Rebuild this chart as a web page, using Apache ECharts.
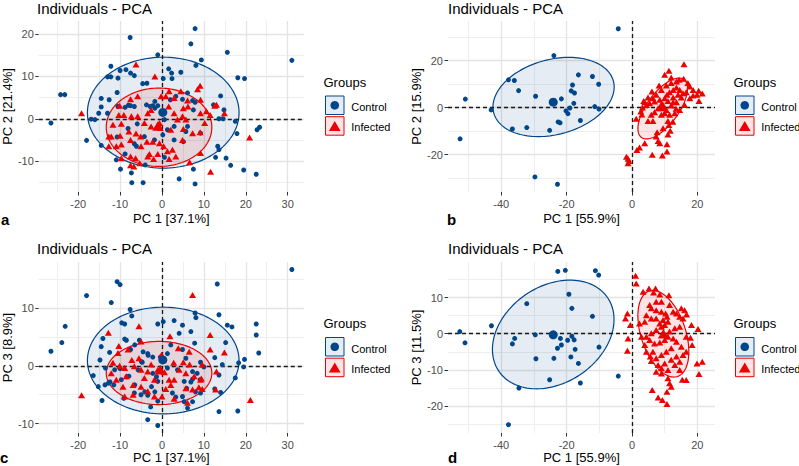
<!DOCTYPE html>
<html>
<head>
<meta charset="utf-8">
<script src="https://cdn.jsdelivr.net/npm/echarts@6/dist/echarts.min.js"></script>
<style>
html,body{margin:0;padding:0;background:#fff;}
#chart{width:799px;height:466px;}
</style>
</head>
<body>
<div id="chart"></div>
<script>
// ---------------- DATA ----------------
const plotTitle = 'Individuals - PCA';
const legendTitle = 'Groups';
const groupNames = ['Control', 'Infected'];
const panelLetters = ['a', 'b', 'c', 'd'];
const xAxisTitles = ['PC 1 [37.1%]', 'PC 1 [55.9%]', 'PC 1 [37.1%]', 'PC 1 [55.9%]'];
const yAxisTitles = ['PC 2 [21.4%]', 'PC 2 [15.9%]', 'PC 3 [8.9%]', 'PC 3 [11.5%]'];

const xTicksA = [-20, -10, 0, 10, 20, 30];
const yTicksA = [-10, 0, 10, 20];
const xTicksB = [-40, -20, 0, 20];
const yTicksB = [-20, 0, 20];
const xTicksC = [-20, -10, 0, 10, 20, 30];
const yTicksC = [-10, 0, 10];
const xTicksD = [-40, -20, 0, 20];
const yTicksD = [-20, -10, 0, 10];

// Panel a: PC1 vs PC2 (37.1% / 21.4%)
const aControl = [[7.9,21.3],[-7.6,19.2],[6.9,17.7],[15.6,15.7],[-1.0,15.1],[31.0,13.8],[9.4,13.9],[8.1,12.6],[-12.2,12.4],[-10.0,11.4],[-8.6,11.6],[-13.0,9.9],[-12.2,9.9],[-10.5,9.6],[-7.5,10.8],[-6.6,10.2],[-4.6,8.3],[-3.6,8.4],[2.3,10.8],[1.6,11.8],[0.3,9.5],[2.4,9.5],[4.5,11.0],[18.1,9.7],[19.7,9.5],[-24.2,5.7],[-23.2,5.7],[-10.7,6.2],[-14.5,4.8],[-12.6,4.5],[-14.5,2.8],[-15.1,1.3],[-16.9,-0.1],[-16.0,-0.2],[-13.0,1.3],[-10.5,2.9],[-8.0,3.2],[-8.8,2.7],[-7.5,3.1],[-6.6,2.9],[-3.7,3.3],[-2.8,2.9],[-2.2,3.1],[-1.7,2.5],[-1.0,3.1],[-1.7,4.1],[2.0,4.5],[3.3,5.3],[4.9,4.6],[6.1,6.1],[7.3,4.3],[7.9,3.9],[7.5,2.1],[14.0,5.4],[12.3,3.3],[14.8,2.1],[13.6,0.0],[14.6,0.0],[17.5,-0.6],[17.9,-3.5],[22.7,-2.6],[23.3,-2.0],[-26.5,-1.0],[-18.0,-5.1],[-14.5,-6.3],[-10.7,-4.3],[-8.1,-2.3],[-5.9,-1.2],[-6.6,-5.9],[-4.2,-4.2],[-1.8,-5.0],[0.2,-3.8],[1.3,-2.6],[2.9,-5.0],[5.1,-5.4],[5.7,-3.0],[6.1,-1.8],[9.2,-3.4],[13.3,-6.5],[13.6,-7.3],[12.8,-9.1],[15.3,-9.3],[16.4,-11.0],[19.5,-12.1],[22.5,-13.1],[7.5,-11.9],[4.1,-14.2],[7.9,-15.4],[-10.9,-9.7],[-9.9,-11.9],[-7.3,-12.8],[-7.2,-15.1],[-4.5,-15.1],[0.6,-9.1],[-4.0,-10.9],[-8.8,-8.3],[-6.1,-6.5],[2.9,-1.8],[0.6,-0.2]];
const aInfected = [[-6.2,12.8],[-1.7,10.0],[-19.2,1.3],[9.1,7.8],[8.5,7.0],[1.7,6.5],[0.9,5.3],[2.9,4.9],[6.1,4.3],[1.6,2.9],[-5.8,5.3],[-7.5,4.6],[-10.1,3.1],[-10.3,0.9],[-9.1,0.9],[-7.3,0.6],[-5.8,0.6],[-3.4,1.3],[-2.6,2.1],[-0.4,-2.2],[-0.6,-1.0],[2.9,1.3],[4.9,0.6],[3.7,-0.2],[5.7,-0.2],[9.2,1.3],[11.5,0.9],[13.0,3.3],[12.6,3.1],[14.9,1.3],[10.2,-1.0],[9.1,-3.2],[7.3,-3.4],[5.1,-2.4],[2.1,-2.6],[-0.6,-5.8],[-2.2,-5.4],[-3.6,-5.4],[-5.1,-4.2],[-6.2,-3.5],[-7.9,-3.0],[-10.0,-4.0],[-12.1,-4.2],[-10.9,-6.5],[-9.7,-6.1],[-7.5,-5.0],[-5.0,-6.5],[-3.0,-8.3],[-1.0,-8.3],[1.3,-7.7],[2.5,-7.3],[3.3,-8.9],[1.7,-9.5],[-2.0,-9.5],[-3.4,-8.9],[-5.3,-10.5],[-7.5,-8.9],[-7.5,-11.0],[-9.7,-9.3],[-12.7,-6.5],[-12.7,-4.2],[9.2,-8.1],[6.6,-10.3],[11.6,-12.5],[20.9,-4.4],[6.2,2.9],[10.6,1.8],[5.1,2.5],[-6.7,-11.3],[-6.3,-9.3],[0.4,-6.5],[-0.2,5.3],[4.5,6.5],[-4.2,-1.0],[-9.7,-1.2],[-11.7,-1.4],[9.2,4.5],[-2.6,-1.8],[4.9,-5.0]];
const aControlMean = [0.2, 1.5];
const aInfectedMean = [-1.0, -1.7];
// ellipse: [centerX, centerY, axis1X, axis1Y, axis2X, axis2Y]
const aControlEllipse = [0.3, 1.45, 18.1, 0, 0, 13.1];
const aInfectedEllipse = [-0.7, -2.0, 12.6, 0, 0, 9.25];

// Panel b: PC1 vs PC2 (55.9% / 15.9%)
const bControl = [[-4.2,33.5],[-23.9,22.1],[-37.8,11.8],[-36.0,11.5],[-34.7,7.2],[-51.0,3.6],[-29.5,4.8],[-21.6,3.7],[-43.1,-1.0],[-52.6,-13.3],[-36.6,-9.1],[-32.2,-8.5],[-25.2,-9.7],[-22.6,-6.1],[-22.0,-6.5],[-20.2,-1.4],[-19.6,-2.6],[-19.0,-0.2],[-17.8,1.8],[-18.2,9.6],[-18.6,7.1],[-17.6,6.2],[-16.4,13.9],[-15.8,-5.5],[-12.1,13.2],[-10.2,9.9],[-11.4,0.4],[-10.1,-0.6],[-29.7,-29.5],[-22.8,-32.6]];
const bInfected = [[15.9,18.4],[11.3,15.6],[10.0,13.9],[15.8,12.2],[6.1,6.8],[17.7,8.9],[20.4,7.1],[21.5,6.0],[19.9,5.4],[18.7,5.1],[20.5,2.8],[3.9,2.3],[3.2,0.0],[2.7,-1.7],[1.3,-4.8],[4.9,-5.7],[6.4,-5.7],[9.0,-3.1],[11.0,-5.7],[11.3,-7.4],[11.7,-9.9],[7.7,-10.5],[7.4,-12.3],[8.0,-14.2],[8.5,-15.2],[10.7,-15.6],[3.9,-15.2],[2.3,-17.0],[1.5,-18.0],[6.2,-20.1],[9.3,-20.4],[10.7,-18.7],[-1.7,-20.9],[-1.2,-21.8],[-0.9,-22.7],[-1.2,-23.7],[4.4,1.1],[5.4,1.8],[6.9,2.6],[8.5,3.3],[10.0,4.0],[10.7,5.4],[11.5,6.5],[12.6,7.5],[13.6,8.5],[14.6,7.5],[15.6,6.1],[15.1,4.3],[13.6,2.3],[12.0,0.9],[10.5,-1.0],[9.0,1.4],[8.0,-0.3],[6.9,-2.0],[5.9,-3.1],[7.4,5.4],[9.0,7.5],[10.5,9.4],[12.0,10.4],[13.6,11.1],[16.6,6.5],[17.7,4.0],[16.1,1.1],[14.6,-1.0],[13.1,-2.4],[11.5,-3.1],[10.0,-2.4],[9.5,0.4],[11.0,2.8],[12.6,4.3],[14.1,5.4],[8.3,9.4],[6.4,4.0],[4.9,4.3],[3.6,2.8],[12.6,2.3],[18.7,7.5],[17.1,10.4],[14.4,11.8],[12.0,12.8],[9.5,-8.8],[12.5,-6.0],[3.0,-3.0],[13.5,-0.5],[11.0,-11.5]];
const bControlMean = [-24.1, 2.3];
const bInfectedMean = [9.5, 0.5];
const bControlEllipse = [-24.0, 4.5, 18.3, 6.8, 3.0, -15.4];
const bInfectedEllipse = [9.4, -0.4, 6.5, 12.3, 3.9, -4.0];

// Panel c: PC1 vs PC3 (37.1% / 8.9%)
const cControl = [[31.0,16.6],[-10.7,14.5],[-10.0,14.0],[13.2,14.1],[-18.0,12.1],[-12.1,10.9],[-7.6,9.7],[-7.2,8.6],[-9.6,7.4],[-8.9,7.2],[-23.1,6.8],[-1.0,7.2],[0.3,7.6],[2.9,7.8],[4.9,7.0],[8.1,8.3],[7.9,9.1],[13.6,8.8],[15.6,7.0],[16.7,6.7],[22.5,7.2],[22.5,5.3],[23.1,2.2],[-23.9,4.0],[-26.5,2.5],[-14.1,4.7],[-14.5,3.3],[-12.5,2.3],[-8.5,4.4],[-8.9,4.6],[-5.4,4.4],[-3.4,2.1],[-2.2,1.5],[-0.4,1.5],[0.6,0.9],[1.3,2.1],[4.1,5.6],[6.9,5.9],[2.1,3.6],[4.9,2.8],[9.2,0.6],[15.2,4.0],[14.4,0.2],[18.3,0.5],[19.7,1.1],[19.5,-0.2],[17.5,-2.1],[13.6,-1.6],[12.6,-4.0],[14.0,-4.6],[18.1,-7.8],[13.6,-7.9],[-13.5,-0.4],[-15.2,-3.6],[-13.6,-3.3],[-14.3,-6.0],[-16.4,-1.7],[-11.5,-3.3],[-9.1,-5.6],[-7.9,-1.8],[-5.0,-5.0],[-3.4,-5.1],[-2.2,-1.3],[-1.0,-2.7],[-1.0,-6.1],[-3.4,-9.3],[-1.0,-10.3],[2.5,-4.7],[3.3,-5.4],[4.9,-5.3],[5.3,-2.7],[7.3,-2.3],[9.2,-4.7],[6.1,-7.3],[9.1,-2.4],[-6.6,-4.7],[-9.7,-2.4],[-11.3,-0.7],[-4.7,0.6],[1.3,-0.4],[3.7,-0.7],[5.7,1.3],[7.3,-1.0],[-7.5,2.8],[-14.8,1.0],[-6.5,3.6],[-4.5,2.4],[-3.3,1.8],[-4.9,0.7],[-5.7,-0.7],[-8.4,-1.9],[-6.5,-3.3],[-4.1,-4.5],[-2.5,-3.6],[-1.7,-4.5],[-1.3,-1.9],[-2.7,-7.1],[-12.8,-3.0],[-12.4,-2.8],[-10.0,-0.5],[10.0,-0.2],[8.4,-1.3],[6.9,-2.8],[5.9,-3.9],[8.0,-4.5],[7.3,-6.2],[5.3,-6.2],[7.8,3.9],[12.6,1.4]];
const cInfected = [[7.3,12.2],[-12.8,5.7],[-5.5,6.8],[11.5,5.3],[11.5,2.8],[14.9,2.3],[1.9,5.1],[-0.1,1.9],[-5.0,4.2],[-10.3,3.4],[-10.5,2.2],[-8.1,2.8],[-7.2,1.0],[-10.1,0.0],[-8.9,-0.4],[-6.6,-0.1],[-5.0,-0.7],[-3.4,-1.0],[-1.0,-0.7],[0.6,-1.1],[2.8,0.5],[5.1,0.6],[6.6,0.2],[9.6,0.2],[7.7,-1.8],[9.2,-2.4],[5.7,-1.3],[2.9,-2.4],[2.1,-3.3],[0.9,-4.0],[0.0,-5.3],[-1.8,-5.3],[-3.4,-4.4],[-5.0,-3.6],[-6.9,-3.3],[-9.3,-3.6],[-10.9,-2.4],[-12.1,-1.3],[-19.2,-5.1],[-8.9,-5.3],[-6.9,-5.0],[5.7,-3.9],[7.3,-4.1],[13.0,-1.0],[12.8,-4.1],[21.1,-5.9],[6.1,-6.4],[2.9,-5.7],[-4.2,-2.1],[-2.6,0.2],[-5.5,1.3],[-11.7,0.5],[8.8,-3.7],[3.9,3.0],[-1.8,-2.4],[1.7,-2.4],[-8.5,-1.8],[6.5,2.4],[9.4,-2.2],[9.6,-4.0],[4.1,-0.7]];
const cControlMean = [0.2, 1.0];
const cInfectedMean = [-0.4, -0.7];
const cControlEllipse = [0.3, 0.9, 18.1, 0, 0, 9.2];
const cInfectedEllipse = [-0.7, -1.25, 12.6, 0, 0, 5.45];

// Panel d: PC1 vs PC3 (55.9% / 11.5%)
const dControl = [[-22.7,17.2],[-20.4,17.5],[-11.2,17.4],[-10.2,16.2],[-19.3,10.9],[-32.2,8.3],[-18.4,7.0],[-12.1,4.8],[-43.0,2.2],[-52.7,0.6],[-51.1,-2.5],[-29.6,-0.3],[-35.9,-1.3],[-36.6,-2.8],[-21.9,-1.3],[-21.6,-3.1],[-22.8,-4.0],[-19.7,-1.8],[-18.4,-0.7],[-17.7,-1.7],[-17.4,-4.3],[-18.7,-6.4],[-16.4,-8.2],[-10.1,-3.7],[-29.4,-6.9],[-23.9,-6.8],[-25.2,-12.7],[-34.6,-15.0],[-15.8,-13.6],[-4.2,-11.7],[-37.8,-25.1]];
const dInfected = [[1.1,16.0],[1.3,13.9],[3.4,11.6],[5.2,12.5],[7.2,12.5],[6.6,11.4],[8.5,10.8],[11.3,10.6],[-1.4,5.6],[-2.0,4.2],[-0.5,2.4],[-1.2,-1.3],[-1.4,-4.7],[2.3,2.8],[2.9,-0.8],[3.9,-3.1],[4.4,-5.0],[5.6,-6.3],[7.4,-10.5],[9.0,-11.0],[11.0,-12.3],[11.5,-13.7],[12.0,-14.6],[10.7,-16.0],[6.2,-15.5],[8.0,-17.6],[9.3,-18.3],[10.7,-19.4],[15.4,-12.7],[16.6,-12.8],[19.9,-8.2],[21.5,-7.7],[20.5,-11.1],[18.4,-3.1],[17.9,-1.1],[18.2,2.4],[20.2,1.3],[16.1,6.5],[15.1,7.0],[16.7,5.3],[14.6,4.7],[15.6,4.2],[13.6,5.6],[5.4,7.9],[5.9,7.0],[7.4,6.5],[9.0,6.1],[10.3,5.6],[10.7,4.7],[9.5,3.8],[8.5,2.8],[10.0,2.4],[11.0,3.3],[9.0,1.9],[7.4,1.0],[5.9,0.1],[4.4,-0.8],[5.4,-1.7],[6.9,-2.7],[8.5,-2.4],[10.0,-1.7],[11.0,-0.8],[12.6,-1.3],[13.6,-2.2],[12.0,-4.0],[10.5,-5.0],[9.0,-5.9],[7.4,-6.8],[5.9,-7.5],[8.0,-8.6],[10.0,-8.2],[12.0,-7.2],[13.6,-6.3],[14.6,-7.7],[15.6,-5.9],[13.1,-8.6],[11.0,-10.0],[14.6,-10.0],[9.0,-9.5],[6.4,-5.0],[4.4,5.1],[3.9,3.3],[5.9,4.2],[7.4,4.2],[11.5,7.9],[12.6,6.1],[14.6,1.9],[13.1,1.5],[11.5,0.6],[7.4,8.8],[9.0,8.8],[16.6,-0.8],[15.1,-3.6],[16.6,-5.0]];
const dControlMean = [-24.1, -0.3];
const dInfectedMean = [9.6, 0.0];
const dControlEllipse = [-24.1, -0.2, 16.6, 10.2, 8.4, -11.0];
const dInfectedEllipse = [9.6, 0.0, 4.3, -11.8, -6.5, -1.9];

// ---------------- LAYOUT / STYLE ----------------
const FONT = '"Liberation Sans", Arial, Helvetica, sans-serif';
const COLORS = ['#00468B', '#ED0000'];
const FILLS = ['rgba(0,70,139,0.10)', 'rgba(237,0,0,0.10)'];

const panels = [
  {ctrl: aControl, inf: aInfected, ctrlMean: aControlMean, infMean: aInfectedMean, ctrlEll: aControlEllipse, infEll: aInfectedEllipse,
   xTicks: xTicksA, yTicks: yTicksA, xRange: [-29.4, 33.9], yRange: [-17.3, 23.1],
   grid: {left: 37, top: 21, width: 267, height: 171}, xNameGap: 20, titleY: 8, legX: 325, legY: 82.3, letterX: 1, letterY: 219.5},
  {ctrl: bControl, inf: bInfected, ctrlMean: bControlMean, infMean: bInfectedMean, ctrlEll: bControlEllipse, infEll: bInfectedEllipse,
   xTicks: xTicksB, yTicks: yTicksB, xRange: [-56.3, 25.4], yRange: [-35.9, 36.8],
   grid: {left: 448, top: 21, width: 267, height: 171}, xNameGap: 20, titleY: 8, legX: 735, legY: 82.3, letterX: 447, letterY: 219.5},
  {ctrl: cControl, inf: cInfected, ctrlMean: cControlMean, infMean: cInfectedMean, ctrlEll: cControlEllipse, infEll: cInfectedEllipse,
   xTicks: xTicksC, yTicks: yTicksC, xRange: [-29.4, 33.9], yRange: [-11.6, 17.9],
   grid: {left: 37, top: 262, width: 267, height: 171}, xNameGap: 18, titleY: 248.3, legX: 325, legY: 323.8, letterX: 0, letterY: 457.5},
  {ctrl: dControl, inf: dInfected, ctrlMean: dControlMean, infMean: dInfectedMean, ctrlEll: dControlEllipse, infEll: dInfectedEllipse,
   xTicks: xTicksD, yTicks: yTicksD, xRange: [-56.3, 25.4], yRange: [-27.4, 19.8],
   grid: {left: 448, top: 262, width: 267, height: 171}, xNameGap: 18, titleY: 248.3, legX: 735, legY: 323.8, letterX: 448, letterY: 457.5}
];

function gridValues(ticks, range) {
  const half = (ticks[1] - ticks[0]) / 2;
  const major = [], minor = [];
  for (let k = Math.ceil(range[0] / half); k * half <= range[1]; k++) {
    if (k % 2 === 0) major.push(k * half); else minor.push(k * half);
  }
  return {major, minor};
}

function ellipseRenderer(color, fill) {
  return function (params, api) {
    const cx = api.value(0), cy = api.value(1);
    const ux = api.value(2), uy = api.value(3), vx = api.value(4), vy = api.value(5);
    const pts = [];
    for (let i = 0; i <= 144; i++) {
      const t = i / 144 * Math.PI * 2;
      pts.push(api.coord([cx + Math.cos(t) * ux + Math.sin(t) * vx, cy + Math.cos(t) * uy + Math.sin(t) * vy]));
    }
    return {type: 'polygon', shape: {points: pts}, style: {fill: fill, stroke: color, lineWidth: 1.2}};
  };
}

function textEl(x, y, text, size, opts) {
  opts = opts || {};
  return {type: 'text', x: x, y: y, silent: true, z: 10,
    style: {text: text, fontSize: size, fontFamily: FONT, fontWeight: opts.bold ? 'bold' : 'normal',
      fill: opts.fill || '#000', align: 'left', verticalAlign: 'middle', textAlign: 'left', textVerticalAlign: 'middle'}};
}

function legendEls(lx, gy) {
  const els = [];
  els.push(textEl(lx - 1.5, gy, legendTitle, 13));
  els.push({type: 'rect', silent: true, z: 10, shape: {x: lx + 0.5, y: gy + 13.7, width: 18.5, height: 18.5},
    style: {fill: FILLS[0], stroke: COLORS[0], lineWidth: 1}});
  els.push({type: 'circle', silent: true, z: 11, shape: {cx: lx + 9.75, cy: gy + 23, r: 4.3}, style: {fill: COLORS[0]}});
  els.push({type: 'rect', silent: true, z: 10, shape: {x: lx + 0.5, y: gy + 34.4, width: 18.5, height: 18.5},
    style: {fill: FILLS[1], stroke: COLORS[1], lineWidth: 1}});
  els.push({type: 'polygon', silent: true, z: 11, shape: {points: [[lx + 9.75, gy + 38.6], [lx + 15.6, gy + 48.6], [lx + 3.9, gy + 48.6]]},
    style: {fill: COLORS[1]}});
  els.push(textEl(lx + 26.3, gy + 25, groupNames[0], 11));
  els.push(textEl(lx + 26.3, gy + 45, groupNames[1], 11));
  return els;
}

const grids = [], xAxes = [], yAxes = [], series = [], graphics = [];

panels.forEach(function (p, i) {
  grids.push(Object.assign({containLabel: false}, p.grid));
  const common = {
    type: 'value', gridIndex: i, nameLocation: 'middle',
    nameTextStyle: {fontSize: 13, color: '#000', fontFamily: FONT},
    axisLine: {show: false, onZero: false},
    splitLine: {show: false}
  };
  xAxes.push(Object.assign({}, common, {
    min: p.xRange[0], max: p.xRange[1], name: xAxisTitles[i], nameGap: p.xNameGap,
    axisTick: {show: true, customValues: p.xTicks, length: 3.5, lineStyle: {color: '#333', width: 1}},
    axisLabel: {customValues: p.xTicks, fontSize: 11, color: '#4D4D4D', margin: 6, fontFamily: FONT}
  }));
  yAxes.push(Object.assign({}, common, {
    min: p.yRange[0], max: p.yRange[1], name: yAxisTitles[i], nameGap: 23,
    axisTick: {show: true, customValues: p.yTicks, length: 3.5, lineStyle: {color: '#333', width: 1}},
    axisLabel: {customValues: p.yTicks, fontSize: 11, color: '#4D4D4D', margin: 5, fontFamily: FONT}
  }));

  const gx = gridValues(p.xTicks, p.xRange), gy = gridValues(p.yTicks, p.yRange);
  const lines = [];
  gx.minor.forEach(v => lines.push({xAxis: v, lineStyle: {color: '#EEEEEE', width: 1, type: 'solid'}}));
  gy.minor.forEach(v => lines.push({yAxis: v, lineStyle: {color: '#EEEEEE', width: 1, type: 'solid'}}));
  gx.major.forEach(v => lines.push({xAxis: v, lineStyle: {color: '#E4E4E4', width: 1.3, type: 'solid'}}));
  gy.major.forEach(v => lines.push({yAxis: v, lineStyle: {color: '#E4E4E4', width: 1.3, type: 'solid'}}));
  const zeroLines = [
    {xAxis: 0, lineStyle: {color: '#1a1a1a', width: 1.3, type: [4, 3]}},
    {yAxis: 0, lineStyle: {color: '#1a1a1a', width: 1.3, type: [4, 3]}}
  ];

  // ellipses
  series.push({type: 'custom', name: groupNames[0], xAxisIndex: i, yAxisIndex: i, z: 2, silent: true,
    data: [p.ctrlEll], encode: {x: 0, y: 1}, renderItem: ellipseRenderer(COLORS[0], FILLS[0])});
  series.push({type: 'custom', name: groupNames[1], xAxisIndex: i, yAxisIndex: i, z: 2, silent: true,
    data: [p.infEll], encode: {x: 0, y: 1}, renderItem: ellipseRenderer(COLORS[1], FILLS[1])});
  // points
  series.push({type: 'scatter', name: groupNames[0], xAxisIndex: i, yAxisIndex: i, z: 4, silent: true,
    symbol: 'circle', symbolSize: 5, itemStyle: {color: COLORS[0], opacity: 1}, data: p.ctrl,
    markLine: {silent: true, z: 1, symbol: ['none', 'none'], label: {show: false}, animation: false, data: lines}});
  series.push({type: 'scatter', name: groupNames[1], xAxisIndex: i, yAxisIndex: i, z: 4, silent: true,
    symbol: 'triangle', symbolSize: [7, 6], itemStyle: {color: COLORS[1], opacity: 1}, data: p.inf,
    markLine: {silent: true, z: 3, symbol: ['none', 'none'], label: {show: false}, animation: false, data: zeroLines}});
  // group means
  series.push({type: 'scatter', name: groupNames[0], xAxisIndex: i, yAxisIndex: i, z: 5, silent: true,
    symbol: 'circle', symbolSize: 9, itemStyle: {color: COLORS[0], opacity: 1}, data: [p.ctrlMean]});
  series.push({type: 'scatter', name: groupNames[1], xAxisIndex: i, yAxisIndex: i, z: 5, silent: true,
    symbol: 'triangle', symbolSize: [11, 9.5], itemStyle: {color: COLORS[1], opacity: 1}, data: [p.infMean]});

  graphics.push(textEl(p.grid.left, p.titleY, plotTitle, 15));
  graphics.push(textEl(p.letterX, p.letterY, panelLetters[i], 15, {bold: true}));
  legendEls(p.legX, p.legY).forEach(e => graphics.push(e));
});

const chart = echarts.init(document.getElementById('chart'), null, {renderer: 'svg', width: 799, height: 466});
chart.setOption({
  backgroundColor: '#ffffff',
  animation: false,
  textStyle: {fontFamily: FONT},
  grid: grids,
  xAxis: xAxes,
  yAxis: yAxes,
  series: series,
  graphic: graphics
});
</script>
</body>
</html>
